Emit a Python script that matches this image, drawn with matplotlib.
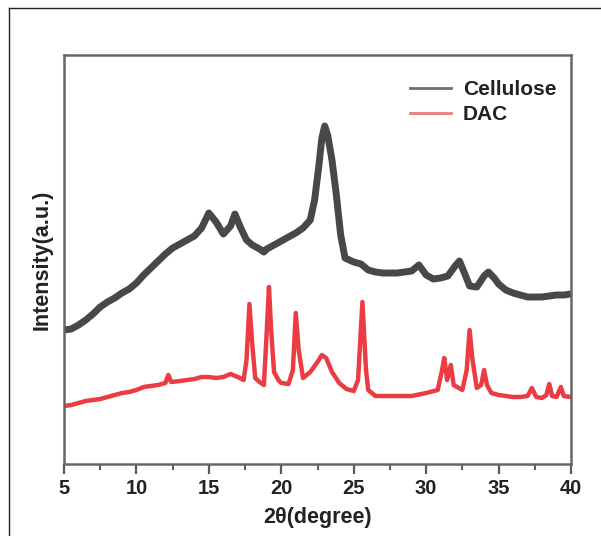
import matplotlib
matplotlib.use("Agg")
import matplotlib.pyplot as plt
from matplotlib.lines import Line2D

plt.rcParams['font.family'] = ['Liberation Sans', 'DejaVu Sans']

# ---- data (2theta in degrees, intensity in arbitrary units) ----
cel_x = [5, 5.5, 6, 6.5, 7, 7.5, 8, 8.5, 9, 9.5, 10, 10.5, 11, 11.5, 12, 12.5,
         13, 13.5, 14, 14.5, 15, 15.5, 16, 16.5, 16.8, 17.2, 17.6, 18, 18.5,
         18.8, 19, 19.5, 20, 20.5, 21, 21.5, 22, 22.3, 22.6, 22.8, 23.0, 23.2,
         23.5, 23.8, 24.1, 24.4, 25, 25.5, 26, 26.5, 27, 28, 28.5, 29, 29.5,
         30, 30.5, 31, 31.5, 32, 32.3, 32.7, 33, 33.5, 34, 34.3, 34.7, 35,
         35.5, 36, 36.5, 37, 37.5, 38, 38.5, 39, 39.5, 40]
cel_y = [134, 135, 139, 144, 150, 157, 162, 166, 171, 175, 181, 189, 196, 203,
         210, 216, 220, 224, 228, 236, 251, 242, 230, 238, 250, 236, 224, 219,
         215, 212, 215, 219, 223, 227, 231, 236, 244, 264, 299, 326, 338, 329,
         304, 269, 229, 206, 202, 200, 194, 192, 191, 191, 192, 193, 199, 189,
         185, 186, 188, 198, 203, 189, 178, 177, 188, 192, 186, 180, 174, 171,
         169, 167, 167, 167, 168, 169, 169, 170]

dac_x = [5, 5.5, 6, 6.5, 7, 7.5, 8, 8.5, 9, 9.5, 10, 10.5, 11, 11.5, 12, 12.2,
         12.4, 13, 13.5, 14, 14.5, 15, 15.5, 16, 16.5, 17, 17.4, 17.6, 17.8,
         18.0, 18.2, 18.5, 18.8, 19.0, 19.15, 19.3, 19.5, 19.8, 20, 20.5, 20.8,
         21.0, 21.2, 21.5, 22, 22.5, 22.8, 23.1, 23.5, 24, 24.5, 25, 25.3, 25.6,
         25.85, 26, 26.5, 27, 28, 29, 30, 30.8, 31.1, 31.25, 31.45, 31.7, 31.9,
         32.5, 32.8, 33.0, 33.2, 33.5, 33.8, 34.0, 34.2, 34.5, 35, 36, 36.5, 37,
         37.3, 37.6, 38, 38.3, 38.5, 38.7, 39, 39.3, 39.5, 40]
dac_y = [58, 59, 61, 63, 64, 65, 67, 69, 71, 72, 74, 77, 78, 79, 81, 89, 82,
         83, 84, 85, 87, 87, 86, 87, 90, 87, 84, 104, 160, 119, 86, 82, 79,
         134, 177, 134, 92, 84, 81, 80, 94, 151, 114, 86, 92, 102, 109, 106,
         92, 81, 75, 73, 84, 162, 94, 74, 68, 68, 68, 68, 71, 74, 94, 106, 84,
         99, 79, 74, 94, 134, 104, 76, 79, 94, 79, 71, 69, 67, 67, 68, 76, 67,
         66, 69, 80, 68, 67, 77, 68, 67]

series = [("Cellulose", cel_x, cel_y), ("DAC", dac_x, dac_y)]

fig = plt.figure(figsize=(6.01, 5.36), dpi=100)
W, H = 601, 536

# outer frame (left and top edges)
fig.add_artist(Line2D([9 / W, 9 / W], [0, 1 - 8 / H], transform=fig.transFigure,
                      color='#222222', lw=1.0))
fig.add_artist(Line2D([9 / W, 1], [1 - 8 / H, 1 - 8 / H], transform=fig.transFigure,
                      color='#222222', lw=1.0))

ax = fig.add_axes([64 / W, (H - 464) / H, (571 - 64) / W, (464 - 55) / H])

styles = {"Cellulose": dict(color='#484848', lw=5.0),
          "DAC": dict(color='#ea3c42', lw=3.2)}
for name, xs, ys in series:
    ax.plot(xs, ys, solid_joinstyle='round', **styles[name])

ax.set_xlim(5, 40)
ax.set_ylim(0, 409)
ax.set_xticks([5, 10, 15, 20, 25, 30, 35, 40])
ax.set_xticks([7.5, 12.5, 17.5, 22.5, 27.5, 32.5, 37.5], minor=True)
ax.set_yticks([])
ax.tick_params(axis='x', which='major', direction='out', length=7, width=1.6,
               color='#5a5a5a', labelsize=14.5, pad=4)
ax.tick_params(axis='x', which='minor', direction='out', length=4, width=1.4,
               color='#5a5a5a')
for lab in ax.get_xticklabels():
    lab.set_fontweight('bold')
    lab.set_color('#222222')
for sp in ax.spines.values():
    sp.set_color('#666666')
    sp.set_linewidth(1.8)

ax.set_xlabel('2θ(degree)', fontsize=15.5, fontweight='bold', color='#222222', labelpad=6)
ax.set_ylabel('Intensity(a.u.)', fontsize=15.5, fontweight='bold', color='#222222', labelpad=8)

handles = [Line2D([], [], color='#6e6e6e', lw=2.0),
           Line2D([], [], color='#f07a7e', lw=2.0)]
leg = ax.legend(handles, [s[0] for s in series], loc='upper left',
                bbox_to_anchor=(0.653, 0.975), frameon=False,
                prop={'size': 15, 'weight': 'bold'}, handlelength=2.0,
                handletextpad=0.55, labelspacing=0.3, borderaxespad=0.3)
for t in leg.get_texts():
    t.set_color('#222222')

fig.savefig('out.png', dpi=100)
